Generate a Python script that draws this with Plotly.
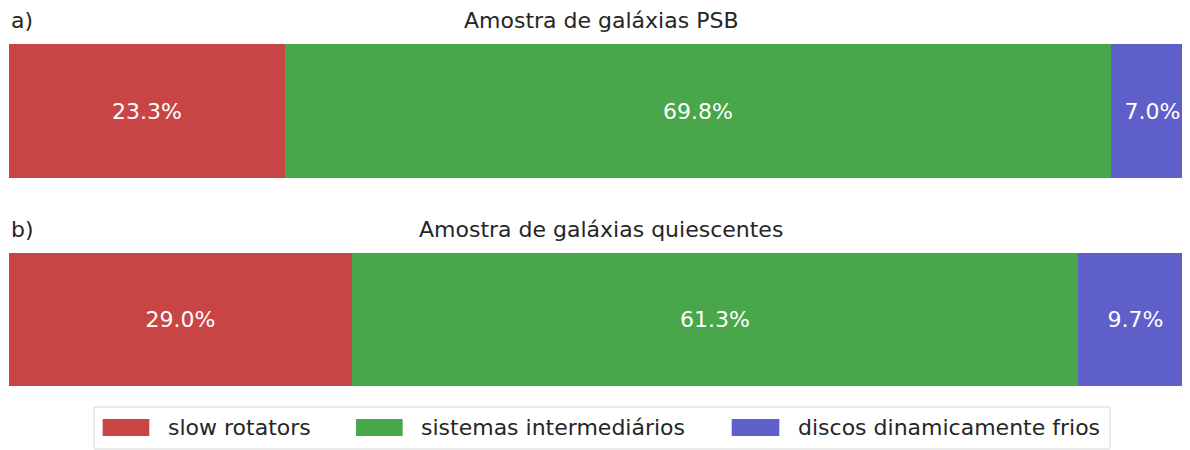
import plotly.graph_objects as go

categories = ["slow rotators", "sistemas intermediários", "discos dinamicamente frios"]
colors = ["#c94545", "#4aa64a", "#5f5fc9"]
psb_values = [23.3, 69.8, 7.0]
quiescent_values = [29.0, 61.3, 9.7]
panel_titles = ["Amostra de galáxias PSB", "Amostra de galáxias quiescentes"]
panel_labels = ["a)", "b)"]

FONT = "DejaVu Sans"
TXT = "#262626"

fig = go.Figure()

for i, name in enumerate(categories):
    for vals, row, ax in [(psb_values, "PSB", ""), (quiescent_values, "Q", "2")]:
        fig.add_trace(
            go.Bar(
                x=[vals[i]],
                y=[row],
                orientation="h",
                name=name,
                marker=dict(color=colors[i], line=dict(width=0)),
                text=[f"{vals[i]:.1f}%"],
                textposition="inside",
                insidetextanchor="middle",
                textfont=dict(color="white", size=22, family=FONT),
                xaxis="x" + ax,
                yaxis="y" + ax,
                showlegend=False,
            )
        )

# panel titles and a)/b) labels
for title, label, ypos in zip(panel_titles, panel_labels, [0.973, 0.507]):
    fig.add_annotation(
        text=title, x=0.5, y=ypos, xref="paper", yref="paper", yanchor="middle",
        showarrow=False, font=dict(size=22, color=TXT),
    )
    fig.add_annotation(
        text=label, x=0.0, y=ypos, xref="paper", yref="paper",
        xanchor="left", yanchor="middle",
        showarrow=False, font=dict(size=22, color=TXT),
    )

# legend drawn by hand (matplotlib-style wide patches in a framed box)
fig.add_shape(
    type="rect", xref="paper", yref="paper",
    x0=0.0718, x1=0.9299, y0=0.02, y1=0.1133,
    line=dict(color="#d6d6d6", width=1), fillcolor="white",
)
patch_x = [(0.0791, 0.1185), (0.2931, 0.3325), (0.6104, 0.6506)]
text_x = [0.1326, 0.3463, 0.6647]
for name, color, (px0, px1), tx in zip(categories, colors, patch_x, text_x):
    fig.add_shape(
        type="rect", xref="paper", yref="paper",
        x0=px0, x1=px1, y0=0.0489, y1=0.0867,
        line=dict(width=0), fillcolor=color,
    )
    fig.add_annotation(
        text=name, x=tx, y=0.0678, xref="paper", yref="paper",
        xanchor="left", yanchor="middle", showarrow=False,
        font=dict(size=22, color=TXT),
    )

fig.update_layout(
    width=1190,
    height=450,
    barmode="stack",
    bargap=0,
    showlegend=False,
    plot_bgcolor="white",
    paper_bgcolor="white",
    margin=dict(l=1, r=5, t=0, b=0),
    font=dict(family=FONT, color=TXT),
    xaxis=dict(domain=[0, 1], range=[0, 100], visible=False, anchor="y"),
    yaxis=dict(domain=[0.622, 0.92], visible=False, anchor="x"),
    xaxis2=dict(domain=[0, 1], range=[0, 100], visible=False, anchor="y2"),
    yaxis2=dict(domain=[0.16, 0.456], visible=False, anchor="x2"),
)

fig.write_html("out.html")
